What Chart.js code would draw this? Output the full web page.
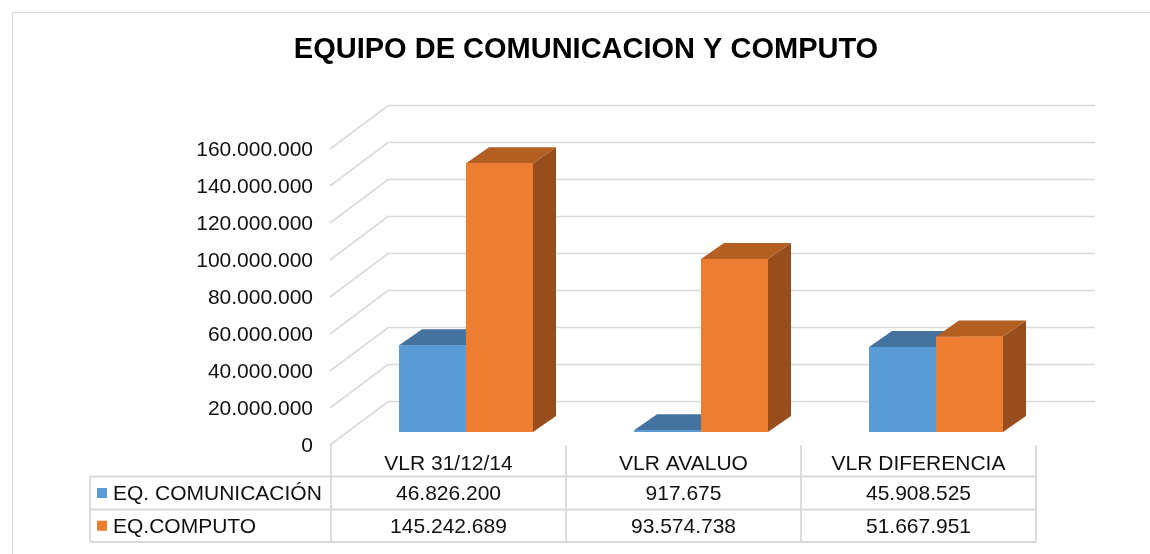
<!DOCTYPE html>
<html>
<head>
<meta charset="utf-8">
<script src="https://cdn.jsdelivr.net/npm/chart.js@4.4.0/dist/chart.umd.min.js"></script>
<style>
html,body{margin:0;padding:0;background:#fff;}
#wrap{width:1150px;height:554px;position:relative;}
</style>
</head>
<body>
<div id="wrap"><canvas id="c"></canvas></div>
<script>
// ---- data ----
const titleText = 'EQUIPO DE COMUNICACION Y COMPUTO';
const categories = ['VLR 31/12/14', 'VLR AVALUO', 'VLR DIFERENCIA'];
const seriesNames = ['EQ. COMUNICACIÓN', 'EQ.COMPUTO'];
const comunicacion = [46826200, 917675, 45908525];
const computo = [145242689, 93574738, 51667951];
const yMin = 0;
const yMax = 160000000;
const yStep = 20000000;

// ---- style ----
const FONT = '"Liberation Sans", Arial, Helvetica, sans-serif';
const TEXT = '#111111';
const GRID = '#d9d9d9';
const DX = 23, DY = -16;

function fmt(v) {
  return String(Math.round(v)).replace(/\B(?=(\d{3})+(?!\d))/g, '.');
}

const frameTitlePlugin = {
  id: 'frameTitle',
  beforeDraw(chart) {
    const ctx = chart.ctx;
    ctx.save();
    ctx.strokeStyle = GRID;
    ctx.lineWidth = 1;
    ctx.beginPath();
    ctx.moveTo(12.5, chart.height);
    ctx.lineTo(12.5, 12.5);
    ctx.lineTo(chart.width, 12.5);
    ctx.stroke();
    ctx.fillStyle = '#000';
    ctx.font = 'bold 29px ' + FONT;
    ctx.textAlign = 'center';
    ctx.textBaseline = 'middle';
    ctx.fillText(titleText, 586, 50);
    ctx.restore();
  }
};

const gridPlugin = {
  id: 'grid3d',
  beforeDatasetsDraw(chart) {
    const {ctx} = chart;
    const xs = chart.scales.x, ys = chart.scales.y;
    const frontX = xs.left - 18.5, backL = xs.left + 39.5, backR = xs.right + 41.5;
    ctx.save();
    ctx.strokeStyle = GRID;
    ctx.lineWidth = 1.6;
    ys.ticks.forEach(t => {
      const p = ys.getPixelForValue(t.value);
      const yf = p + 13, yb = p - 30.5;
      ctx.beginPath();
      ctx.moveTo(frontX, yf);
      ctx.lineTo(backL, yb);
      ctx.lineTo(backR, yb);
      ctx.stroke();
    });
    ctx.restore();
  }
};

// draws each bar as a box (side, top, front) in dataset order so the right bar covers the left one
const bar3dPlugin = {
  id: 'bar3d',
  afterDatasetsDraw(chart) {
    const ctx = chart.ctx;
    ctx.save();
    chart.data.datasets.forEach((ds, di) => {
      const meta = chart.getDatasetMeta(di);
      meta.data.forEach(el => {
        const {x, y, base, width} = el.getProps(['x', 'y', 'base', 'width'], true);
        const l = x - width / 2, r = x + width / 2;
        ctx.fillStyle = ds.sideColor;
        ctx.beginPath();
        ctx.moveTo(r, y); ctx.lineTo(r + DX, y + DY); ctx.lineTo(r + DX, base + DY); ctx.lineTo(r, base);
        ctx.closePath(); ctx.fill();
        ctx.fillStyle = ds.topColor;
        ctx.beginPath();
        ctx.moveTo(l, y); ctx.lineTo(l + DX, y + DY); ctx.lineTo(r + DX, y + DY); ctx.lineTo(r, y);
        ctx.closePath(); ctx.fill();
        ctx.fillStyle = ds.backgroundColor;
        ctx.fillRect(l, y, width, base - y);
      });
    });
    ctx.restore();
  }
};

const tablePlugin = {
  id: 'dataTable',
  afterDraw(chart) {
    const ctx = chart.ctx;
    const xs = chart.scales.x, ys = chart.scales.y;
    const n = categories.length;
    const colW = (xs.right - xs.left) / n;
    const x0 = xs.left - 17.5;
    const xEnd = x0 + colW * n;
    const tableL = 90;
    const hdrTop = ys.getPixelForValue(0) + 13;
    const rows = [476.5, 509.5, 542];
    ctx.save();
    ctx.strokeStyle = GRID;
    ctx.lineWidth = 1.8;
    ctx.beginPath();
    rows.forEach(ry => { ctx.moveTo(tableL, ry); ctx.lineTo(xEnd, ry); });
    ctx.moveTo(tableL, rows[0]); ctx.lineTo(tableL, rows[2]);
    for (let i = 0; i <= n; i++) {
      const cx = x0 + colW * i;
      ctx.moveTo(cx, hdrTop); ctx.lineTo(cx, rows[2]);
    }
    ctx.stroke();

    const series = [comunicacion, computo];
    ctx.font = '21px ' + FONT;
    ctx.textBaseline = 'middle';
    series.forEach((vals, r) => {
      const cy = (rows[r] + rows[r + 1]) / 2;
      const ds = chart.data.datasets[r];
      ctx.fillStyle = ds.backgroundColor;
      ctx.fillRect(97, cy - 5, 10, 10);
      ctx.fillStyle = TEXT;
      ctx.textAlign = 'left';
      ctx.fillText(seriesNames[r], 113, cy + 1);
      ctx.textAlign = 'center';
      vals.forEach((v, i) => {
        ctx.fillText(fmt(v), x0 + colW * (i + 0.5), cy + 1);
      });
    });
    ctx.restore();
  }
};

new Chart(document.getElementById('c'), {
  type: 'bar',
  data: {
    labels: categories,
    datasets: [
      {label: seriesNames[0], data: comunicacion, backgroundColor: '#5B9BD5', topColor: '#44739F', sideColor: '#3B6890', borderWidth: 0},
      {label: seriesNames[1], data: computo, backgroundColor: '#ED7D31', topColor: '#B45F22', sideColor: '#984E1C', borderWidth: 0}
    ]
  },
  options: {
    responsive: true,
    maintainAspectRatio: false,
    animation: false,
    barPercentage: 1,
    categoryPercentage: 134 / 235,
    layout: {padding: {left: 0, right: 96.5, top: 136, bottom: 0}},
    plugins: {
      legend: {display: false},
      tooltip: {enabled: false},
      title: {display: false}
    },
    scales: {
      x: {
        grid: {display: false, drawTicks: false},
        border: {display: false},
        ticks: {color: TEXT, font: {family: FONT, size: 21}, padding: 19.5, labelOffset: -17.5, maxRotation: 0, autoSkip: false},
        afterFit(scale) { scale.height = 122; }
      },
      y: {
        min: yMin, max: yMax,
        grid: {display: false, drawTicks: false},
        border: {display: false},
        ticks: {stepSize: yStep, color: TEXT, font: {family: FONT, size: 21}, padding: 35.5, labelOffset: 14.5, callback: v => fmt(v)},
        afterFit(scale) { scale.width = 348.5; }
      }
    }
  },
  plugins: [frameTitlePlugin, gridPlugin, bar3dPlugin, tablePlugin]
});
</script>
</body>
</html>
